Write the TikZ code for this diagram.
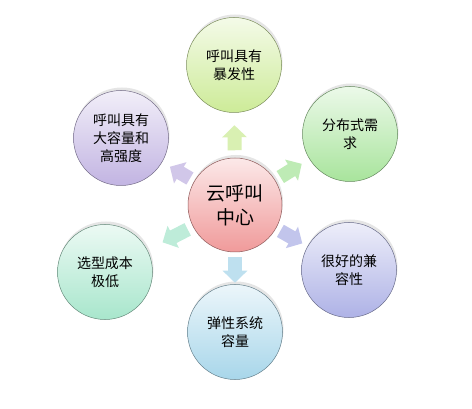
\documentclass[tikz,border=0pt]{standalone}
\usepackage{fontspec}
\usepackage{tikz}
\usetikzlibrary{arrows.meta}
\usetikzlibrary{shadows}
\newfontfamily\cjk{Noto Sans CJK SC}
\definecolor{hubred}{HTML}{F09A9A}
\definecolor{yellowgreen}{HTML}{CDEB98}
\definecolor{leafgreen}{HTML}{A8E49C}
\definecolor{bluepurple}{HTML}{AEB2E6}
\definecolor{skyblue}{HTML}{A8D6EA}
\definecolor{mint}{HTML}{A8E6CC}
\definecolor{lavender}{HTML}{C2B4E2}
\tikzset{bubble/.style = {circle, minimum size = 95, inner sep = 0, align = center,
                          top color = #1!22, bottom color = #1, draw = #1!60!black,
                          line width = 0.5, font = \cjk\fontsize{14}{18}\selectfont,
                          drop shadow = {opacity = 0.2, shadow xshift = 1, shadow yshift = -3}}}
\tikzset{fat/.style n args = {3}{line width = 14, draw = #1!75, shorten <= #2, shorten >= #3,
                                 -{Triangle[width = 24, length = 12]}}}

\begin{document}
\begin{tikzpicture}[x = 1pt, y = -1pt]
    \useasboundingbox [fill = white] (0, 0) rectangle (472, 409);

    \node [bubble = hubred, minimum size = 94, font = \cjk\fontsize{19}{24}\selectfont] (hub) at (235, 205) {云呼叫\\中心};

    \node [bubble = yellowgreen] (burst) at (234, 65) {呼叫具有\\暴发性};
    \node [bubble = leafgreen] (dist) at (350, 134) {分布式需\\求};
    \node [bubble = bluepurple] (compat) at (349, 270) {很好的兼\\容性};
    \node [bubble = skyblue] (elastic) at (235, 332) {弹性系统\\容量};
    \node [bubble = mint] (cost) at (105, 272) {选型成本\\极低};
    \node [bubble = lavender] (load) at (121, 138) {呼叫具有\\大容量和\\高强度};

    \draw [fat = {yellowgreen}{7.5}{12.5}] (hub) -- (burst);
    \draw [fat = {leafgreen}{6}{9}] (hub) -- (dist);
    \draw [fat = {bluepurple}{5}{6}] (hub) -- (compat);
    \draw [fat = {skyblue}{5}{1.5}] (hub) -- (elastic);
    \draw [fat = {mint}{6}{17}] (hub) -- (cost);
    \draw [fat = {lavender}{5}{9}] (hub) -- (load);
\end{tikzpicture}
\end{document}
